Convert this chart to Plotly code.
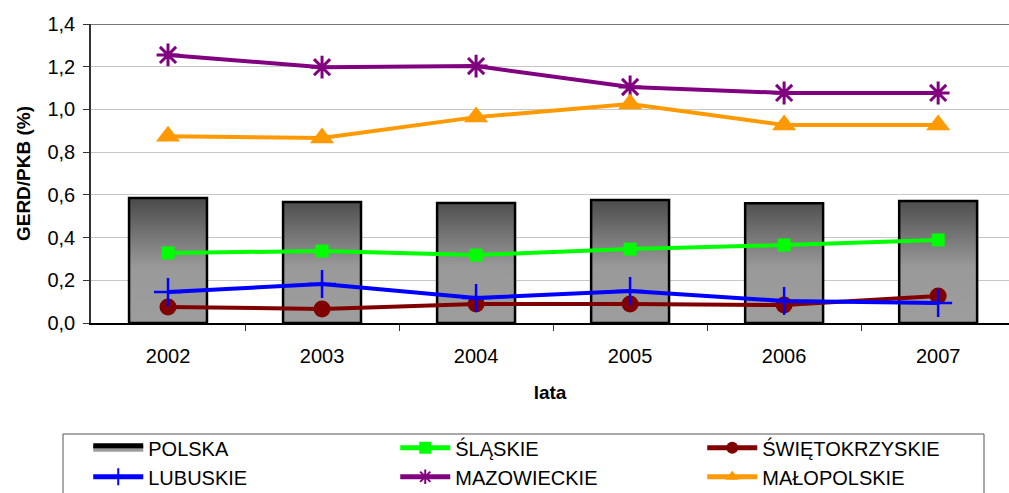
import plotly.graph_objects as go

# -----------------------------
# Data (GERD/PKB, %)
# -----------------------------
years = ["2002", "2003", "2004", "2005", "2006", "2007"]
polska = [0.585, 0.566, 0.562, 0.576, 0.561, 0.571]
slaskie = [0.328, 0.337, 0.318, 0.346, 0.365, 0.389]
swietokrzyskie = [0.075, 0.066, 0.089, 0.089, 0.084, 0.126]
lubuskie = [0.145, 0.183, 0.117, 0.150, 0.103, 0.094]
mazowieckie = [1.255, 1.198, 1.203, 1.105, 1.077, 1.077]
malopolskie = [0.875, 0.866, 0.964, 1.025, 0.927, 0.927]

y_ticks = [0.0, 0.2, 0.4, 0.6, 0.8, 1.0, 1.2, 1.4]

FONT = "Liberation Sans, Arial, sans-serif"
BAR_HALF = 0.253

xs = list(range(len(years)))

# bars as filled polygons so they can carry a vertical gradient
bar_x, bar_y = [], []
for i, v in zip(xs, polska):
    bar_x += [i - BAR_HALF, i + BAR_HALF, i + BAR_HALF, i - BAR_HALF, i - BAR_HALF, None]
    bar_y += [0, 0, v, v, 0, None]

fig = go.Figure()

fig.add_trace(go.Scatter(
    x=bar_x, y=bar_y, mode="lines", fill="toself", name="POLSKA",
    line=dict(color="black", width=2.5),
    fillgradient=dict(type="vertical", start=0, stop=max(polska),
                      colorscale=[[0, "#9d9d9d"], [0.45, "#999999"], [1, "#4a4a4a"]]),
    hoverinfo="skip",
))

series = [
    ("ŚLĄSKIE", slaskie, "#00FF00", "square", 13, 0),
    ("ŚWIĘTOKRZYSKIE", swietokrzyskie, "#800000", "circle", 17, 0),
    ("LUBUSKIE", lubuskie, "#0000FF", "cross-thin-open", 20, 2.5),
    ("MAZOWIECKIE", mazowieckie, "#800080", "asterisk-open", 19, 3),
    ("MAŁOPOLSKIE", malopolskie, "#FF9900", "triangle-up", 21, 0),
]
for name, vals, color, sym, size, lw in series:
    fig.add_trace(go.Scatter(
        x=xs, y=vals, mode="lines+markers", name=name,
        line=dict(color=color, width=4),
        marker=dict(symbol=sym, size=size, color=color, line=dict(color=color, width=lw)),
    ))

fig.update_layout(
    width=1009, height=493,
    margin=dict(l=91, r=0, t=24, b=170, autoexpand=False),
    plot_bgcolor="white", paper_bgcolor="white",
    separators=", ",
    font=dict(family=FONT, size=20, color="black"),
    showlegend=True,
    legend=dict(
        orientation="h", x=-0.003, y=-0.352, xanchor="left", yanchor="top",
        entrywidth=242, entrywidthmode="pixels", itemwidth=50,
        itemsizing="constant", traceorder="normal",
        borderwidth=0, bgcolor="rgba(0,0,0,0)",
        font=dict(family=FONT, size=20),
        tracegroupgap=0,
    ),
    xaxis=dict(
        range=[-0.5, 5.46], tickvals=xs, ticktext=years,
        ticks="", showgrid=False, zeroline=False,
        showline=True, linecolor="black", linewidth=1.5,
        minor=dict(tickvals=[i + 0.5 for i in xs[:-1]], ticks="outside",
                   ticklen=6, tickcolor="#333333", showgrid=False),
        ticklabelstandoff=14,
        title=dict(text="<b>lata</b>", font=dict(size=19), standoff=20),
        tickfont=dict(size=20),
    ),
    yaxis=dict(
        range=[0, 1.4], tickvals=y_ticks, tickformat=".1f",
        ticks="outside", ticklen=6, tickcolor="#333333",
        showgrid=True, gridcolor="#c8c8c8", gridwidth=1,
        zeroline=False, showline=True, linecolor="#333333", linewidth=1.5,
        ticklabelstandoff=4,
        title=dict(text="<b>GERD/PKB (%)</b>", font=dict(size=19), standoff=12),
        tickfont=dict(size=20),
    ),
)

# top border of the plot area
fig.add_shape(type="line", xref="paper", yref="y", x0=0, x1=1, y0=1.4, y1=1.4,
              line=dict(color="#777777", width=2), layer="above")

# legend frame (runs off the bottom of the page as in the original)
fig.add_shape(type="rect", xref="paper", yref="paper",
              x0=(63 - 91) / 918, x1=(984 - 91) / 918,
              y0=(323 - 434) / 299, y1=(323 - 505) / 299,
              line=dict(color="#555555", width=1))

fig.write_html("out.html", config={"displayModeBar": False},
               post_script="document.body.style.margin='0px';")
